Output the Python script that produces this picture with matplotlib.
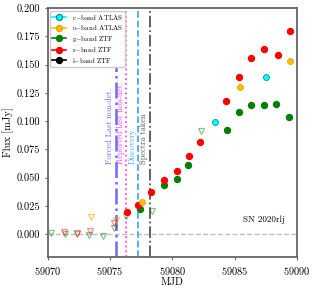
import matplotlib
matplotlib.use("Agg")
import matplotlib.pyplot as plt
from matplotlib.lines import Line2D

plt.rcParams["font.family"] = "serif"
plt.rcParams["font.serif"] = ["cmr10", "DejaVu Serif"]
plt.rcParams["mathtext.fontset"] = "cm"
plt.rcParams["axes.formatter.use_mathtext"] = True

# detections
c_mjd = [59083.41, 59087.51]
c_flux = [0.0991, 0.1392]
o_mjd = [59077.52, 59085.42, 59089.44]
o_flux = [0.0289, 0.1298, 0.1528]
g_mjd = [59077.39, 59079.29, 59080.39, 59081.27, 59084.38, 59085.37, 59086.28,
         59087.32, 59088.34, 59089.36]
g_flux = [0.0227, 0.0440, 0.0493, 0.0617, 0.0926, 0.1077, 0.1139,
          0.1142, 0.1148, 0.1038]
r_mjd = [59076.32, 59077.25, 59078.27, 59079.34, 59080.36, 59081.33, 59082.23,
         59084.27, 59085.34, 59086.33, 59087.37, 59088.45, 59089.44]
r_flux = [0.0197, 0.0257, 0.0372, 0.0484, 0.0560, 0.0696, 0.0820,
          0.1180, 0.1387, 0.1555, 0.1634, 0.1584, 0.1796]

# non-detections (upper limits)
o_ul_mjd = [59073.45, 59075.46]
o_ul_flux = [0.0153, 0.0124]
g_ul_mjd = [59070.24, 59071.37, 59072.37, 59073.30, 59074.45, 59075.33,
            59076.27, 59078.33, 59082.31]
g_ul_flux = [0.0015, 0.0003, 0.0000, -0.0006, -0.0015, 0.0056,
             0.0160, 0.0204, 0.0909]
r_ul_mjd = [59071.31, 59072.35, 59073.40, 59075.28]
r_ul_flux = [0.0020, 0.0010, 0.0027, 0.0097]

# epochs
forced_mjd = 59075.44
reported_mjd = 59076.29
discovery_mjd = 59077.25
spectra_mjd = 59078.17

fig = plt.figure(figsize=(3.15, 2.89), dpi=100)
ax = fig.add_axes([0.152, 0.111, 0.791, 0.861])

ax.axhline(0, color="#c0c0c0", ls="--", lw=1, zorder=0)

# vertical lines + labels
ax.vlines(forced_mjd, -0.02, 0.15, color="#6a6aff", ls="-.", lw=1.8, zorder=1)
ax.axvline(reported_mjd, color="#ff44ff", ls=":", lw=1.3, zorder=1)
ax.axvline(discovery_mjd, color="#44aaff", ls="--", lw=1.3, zorder=1)
ax.axvline(spectra_mjd, color="#555555", ls="-.", lw=1.3, zorder=1)

ax.text(forced_mjd - 0.15, 0.062, "Forced Last non-det.", rotation=90,
        ha="right", va="bottom", color="#6a6aff", fontsize=6)
ax.text(reported_mjd - 0.12, 0.062, "Reported last non-det.", rotation=90,
        ha="right", va="bottom", color="#ff44ff", fontsize=6)
ax.text(discovery_mjd - 0.15, 0.062, "Discovery", rotation=90,
        ha="right", va="bottom", color="#44aaff", fontsize=6)
ax.text(spectra_mjd - 0.12, 0.062, "Spectra taken", rotation=90,
        ha="right", va="bottom", color="#555555", fontsize=6)

# upper limits
ax.plot(g_ul_mjd, g_ul_flux, "v", mfc="none", mec="green", alpha=0.45, ms=4.3, mew=0.9)
ax.plot(r_ul_mjd, r_ul_flux, "v", mfc="none", mec="red", alpha=0.45, ms=4.3, mew=0.9)
ax.plot(o_ul_mjd, o_ul_flux, "v", mfc="none", mec="orange", alpha=0.6, ms=4.3, mew=0.9)

# detections
ax.plot(g_mjd, g_flux, "o", color="green", ms=4.3, mec="green", zorder=3)
ax.plot(r_mjd, r_flux, "o", color="red", ms=4.3, mec="red", zorder=3)
ax.plot(o_mjd, o_flux, "o", color="#ffbf00", ms=4.3, mec="#f0a000", mew=0.6, zorder=3)
ax.plot(c_mjd, c_flux, "o", color="cyan", ms=4.3, mec="#009999", mew=0.6, zorder=3)

ax.text(59089.0, 0.013, "SN 2020rlj", ha="right", va="center", fontsize=6.5)

handles = [
    Line2D([], [], color="cyan", marker="o", mec="#009999", ms=4.3, lw=1.2),
    Line2D([], [], color="#ffbf00", marker="o", mec="#f0a000", ms=4.3, lw=1.2),
    Line2D([], [], color="green", marker="o", ms=4.3, lw=1.2),
    Line2D([], [], color="red", marker="o", ms=4.3, lw=1.2),
    Line2D([], [], color="black", marker="o", ms=4.3, lw=1.2),
]
labels = ["c$-$band ATLAS", "o$-$band ATLAS", "g$-$band ZTF", "r$-$band ZTF", "i$-$band ZTF"]
ax.legend(handles, labels, loc="upper left", fontsize=5, framealpha=1,
          handlelength=2.0, borderpad=0.3, labelspacing=0.22,
          borderaxespad=0.35)

ax.set_xlim(59070, 59090)
ax.set_ylim(-0.02, 0.2)
ax.set_xticks([59070, 59075, 59080, 59085, 59090])
ax.set_yticks([0.0, 0.025, 0.05, 0.075, 0.1, 0.125, 0.15, 0.175, 0.2])
ax.set_yticklabels(["0.000", "0.025", "0.050", "0.075", "0.100", "0.125",
                    "0.150", "0.175", "0.200"])
ax.tick_params(labelsize=7.5, color="#666666", length=2)
for s in ax.spines.values():
    s.set_color("#666666")
    s.set_linewidth(1.3)

ax.set_xlabel("MJD", fontsize=7.5, labelpad=1)
ax.set_ylabel("Flux [mJy]", fontsize=7.5, labelpad=2)

plt.savefig("out.png", dpi=100)
plt.close()
